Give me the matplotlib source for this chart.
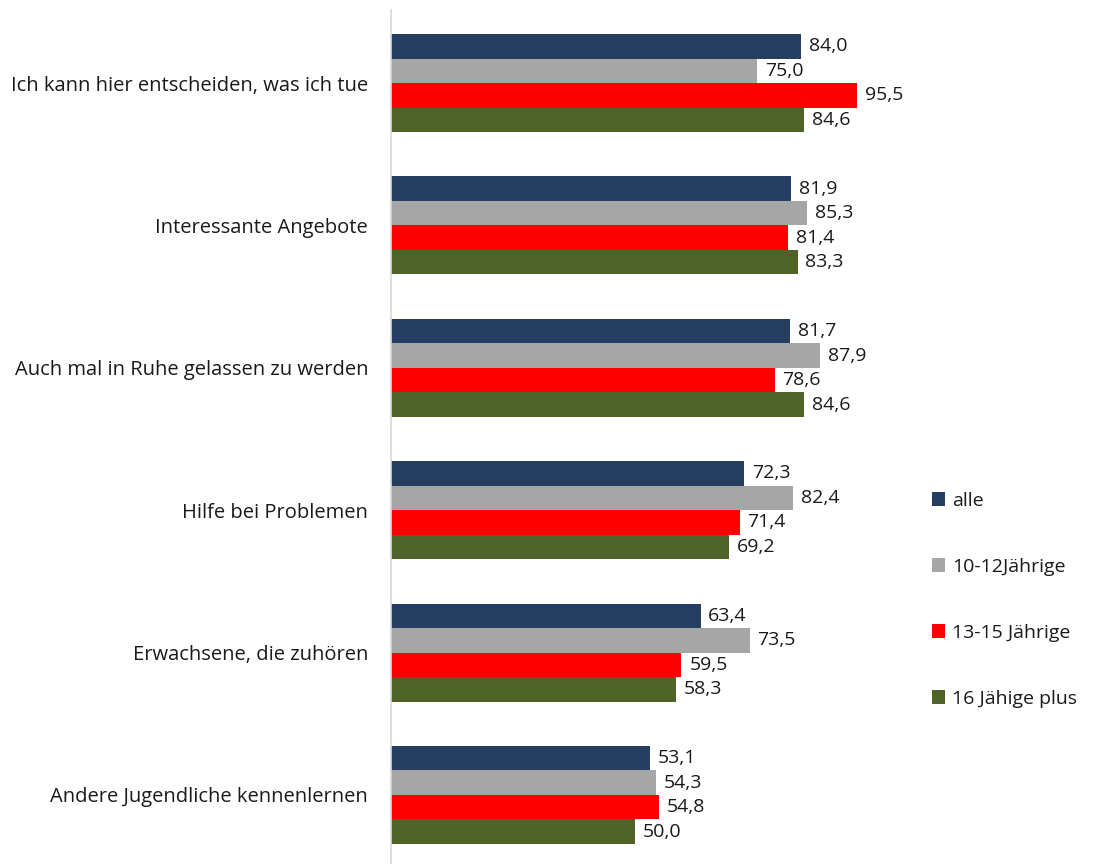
import numpy as np
import matplotlib.pyplot as plt
from matplotlib.patches import Patch

# Daten
categories = [
    "Ich kann hier entscheiden, was ich tue",
    "Interessante Angebote",
    "Auch mal in Ruhe gelassen zu werden",
    "Hilfe bei Problemen",
    "Erwachsene, die zuhören",
    "Andere Jugendliche kennenlernen",
]
series_names = ["alle", "10-12Jährige", "13-15 Jährige", "16 Jähige plus"]
alle = [84.0, 81.9, 81.7, 72.3, 63.4, 53.1]
j10_12 = [75.0, 85.3, 87.9, 82.4, 73.5, 54.3]
j13_15 = [95.5, 81.4, 78.6, 71.4, 59.5, 54.8]
j16_plus = [84.6, 83.3, 84.6, 69.2, 58.3, 50.0]

colors = ["#243F62", "#A6A6A6", "#FF0000", "#4F6228"]

plt.rcParams['font.family'] = ['Open Sans', 'DejaVu Sans']

fig = plt.figure(figsize=(10.96, 8.64), dpi=100)
ax = fig.add_axes([391 / 1096, 0, 537 / 1096, 854 / 864])

values = [alle, j10_12, j13_15, j16_plus]
y = np.arange(len(categories))
h = 0.172
offsets = (np.arange(4) - 1.5) * h

for vals, off, col in zip(values, offsets, colors):
    bars = ax.barh(y + off, vals, height=h, color=col, edgecolor='none')
    for b, v in zip(bars, vals):
        ax.text(v + 1.6, b.get_y() + b.get_height() / 2, f"{v:.1f}".replace('.', ','),
                va='center', ha='left', fontsize=14, color='#1a1a1a')

ax.set_xlim(0, 110)
ax.set_ylim(5.485, -0.513)
ax.set_yticks(y)
ax.set_yticklabels(categories, fontsize=14.5, color='#1a1a1a')
ax.tick_params(axis='y', length=0, pad=16.5)
ax.set_xticks([])
for s in ['top', 'right', 'bottom']:
    ax.spines[s].set_visible(False)
ax.spines['left'].set_color('#D9D9D9')
ax.spines['left'].set_linewidth(1.2)

handles = [Patch(facecolor=c, edgecolor='none') for c in colors]
fig.legend(handles, series_names, loc='upper left', bbox_to_anchor=(914 / 1096, 1 - 474 / 864),
           frameon=False, fontsize=14, handlelength=0.7, handleheight=0.7,
           handletextpad=0.35, labelspacing=2.47, labelcolor='#1a1a1a')

fig.savefig('out.png', dpi=100)
